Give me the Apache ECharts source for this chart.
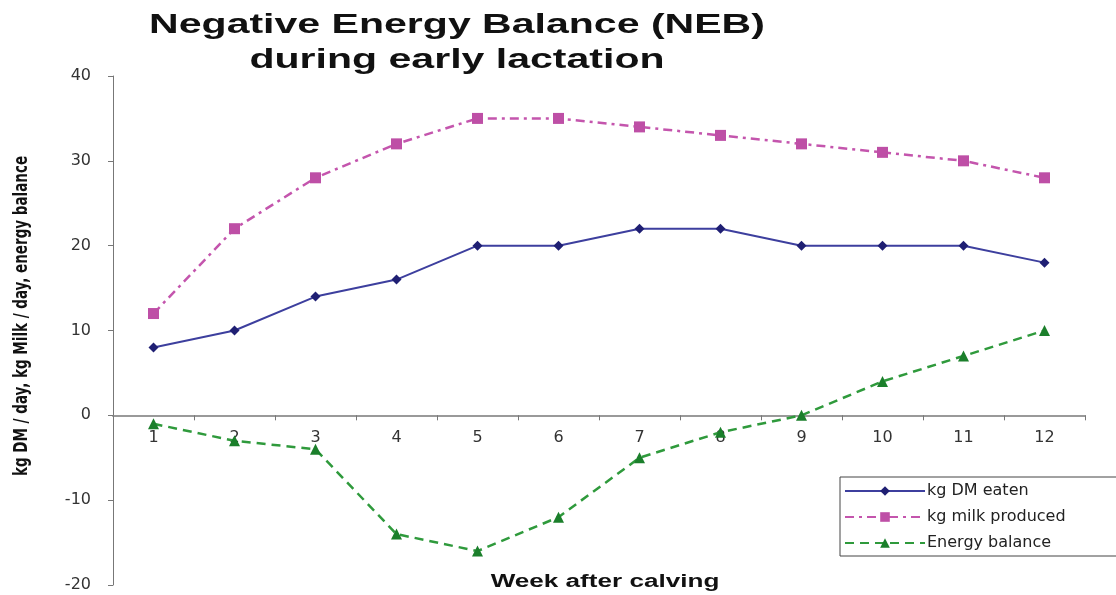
<!DOCTYPE html>
<html>
<head>
<meta charset="utf-8">
<script src="https://cdn.jsdelivr.net/npm/echarts@6/dist/echarts.min.js"></script>
<style>html,body{margin:0;padding:0;background:#fff}#c{width:1116px;height:595px}</style>
</head>
<body>
<div id="c"></div>
<script>
var weeks = ['1','2','3','4','5','6','7','8','9','10','11','12'];
var dmEaten = [8,10,14,16,20,20,22,22,20,20,20,18];
var milkProduced = [12,22,28,32,35,35,34,33,32,31,30,28];
var energyBalance = [-1,-3,-4,-14,-16,-12,-5,-2,0,4,7,10];
var seriesNames = ['kg DM eaten','kg milk produced','Energy balance'];
var titleLines = 'Negative Energy Balance (NEB)\nduring early lactation';
var xName = 'Week after calving';
var yName = 'kg DM / day, kg Milk / day, energy balance';

var chart = echarts.init(document.getElementById('c'), null, {renderer:'canvas'});
var font = 'Liberation Sans, Arial, sans-serif';
var wide = '"DejaVu Sans", sans-serif';
chart.setOption({
  animation:false,
  backgroundColor:'#fff',
  grid:{left:113,right:31,top:76,bottom:10,containLabel:false,outerBoundsMode:'none'},
  legend:{
    left:840, top:477, orient:'vertical',
    data:seriesNames,
    itemWidth:80, itemHeight:12, itemGap:10,
    padding:[6,120,5,4],
    borderColor:'#444', borderWidth:1,
    textStyle:{fontFamily:wide,fontSize:16,color:'#222',padding:[0,0,0,-3]}
  },
  xAxis:{
    type:'category', data:weeks, boundaryGap:true,
    axisLine:{onZero:false,lineStyle:{color:'#999',width:2}},
    offset:-169.67,
    axisTick:{show:true,length:5,lineStyle:{color:'#777',width:1}},
    axisLabel:{fontFamily:wide,fontSize:16,color:'#333',margin:15},
    splitLine:{show:false}
  },
  yAxis:{
    type:'value', min:-20, max:40, interval:10,
    axisLine:{show:true,lineStyle:{color:'#777',width:1}},
    axisTick:{show:true,length:5,lineStyle:{color:'#777'}},
    axisLabel:{fontFamily:wide,fontSize:16,color:'#333',margin:22},
    splitLine:{show:false}
  },
  graphic:[
    {type:'text',x:457,y:8,scaleX:1.52,style:{text:titleLines,font:'bold 27px '+font,lineHeight:35,fill:'#111',align:'center'}},
    {type:'text',x:605,y:582,scaleX:1.45,style:{text:xName,font:'bold 18px '+font,fill:'#111',align:'center',verticalAlign:'middle'}},
    {type:'text',x:22,y:316,rotation:Math.PI/2,scaleY:1.25,style:{text:yName,font:'bold 15px "Liberation Sans Narrow", "DejaVu Sans Condensed", sans-serif',fill:'#111',align:'center',verticalAlign:'middle'}}
  ],
  series:[
    {name:seriesNames[0],type:'line',data:dmEaten,symbol:'diamond',symbolSize:10,
     lineStyle:{color:'#3D3F9E',width:2},itemStyle:{color:'#1F1F73'}},
    {name:seriesNames[1],type:'line',data:milkProduced,symbol:'rect',symbolSize:11,
     lineStyle:{color:'#C455AD',width:2.5,type:[9,5,3,5]},itemStyle:{color:'#BE4FA6'}},
    {name:seriesNames[2],type:'line',data:energyBalance,symbol:'triangle',symbolSize:11,
     lineStyle:{color:'#2F9A3C',width:2.5,type:[9,6]},itemStyle:{color:'#1B7F2B'}}
  ]
});
</script>
</body>
</html>
